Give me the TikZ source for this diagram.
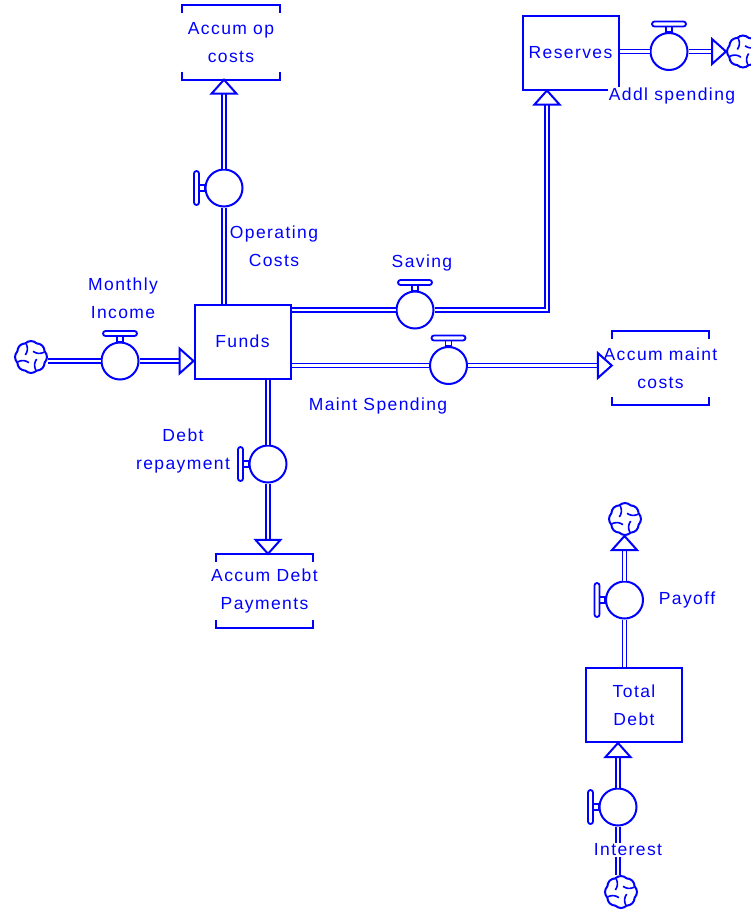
\documentclass[tikz,border=0pt]{standalone}
\usepackage{fontspec}
\setmainfont{Liberation Sans}[LetterSpace=8]
\usetikzlibrary{shapes.symbols}
\definecolor{sdblue}{RGB}{0,0,255}
\tikzset{
  stock/.style={draw=sdblue, line width=2pt, minimum width=96pt, minimum height=74pt, inner sep=0pt, align=center},
  acc/.style={minimum width=97pt, minimum height=74pt, inner sep=0pt, align=center},
  valve/.style={circle, draw=sdblue, line width=2pt, minimum size=37pt, inner sep=0pt, fill=white},
  pipe/.style={draw=sdblue, line width=1.7pt, double=white, double distance=2.2pt},
  srcsnk/.style={cloud, cloud puffs=8, cloud puff arc=90, aspect=1, draw=sdblue, line width=2pt, minimum size=32pt, inner sep=0pt, fill=white,
    path picture={\foreach \a in {20,110,200,290}
      \draw[sdblue, line width=1.6pt] ([shift={(\a:14pt)}]path picture bounding box.center) to[bend left=30] ([shift={(\a+50:6pt)}]path picture bounding box.center);}},
  lbl/.style={align=center, fill=white, inner sep=1pt},
  fhead/.pic={\draw[sdblue, line width=2pt, fill=white, line join=miter] (0,0) -- (-14,-12.5) -- (-14,12.5) -- cycle;},
  handle/.pic={\draw[sdblue, line width=1.8pt, fill=white] (-3,0) rectangle (3,-5.5);
    \draw[sdblue, line width=1.8pt, fill=white, rounded corners=2.5pt] (-17,-5.5) rectangle (17,-10.5);},
}
\begin{document}
\begin{tikzpicture}[x=1pt, y=-1pt, text=sdblue, font=\fontsize{17.5}{28}\selectfont]
  \useasboundingbox (0,0) rectangle (751,911);

  % stocks
  \node[stock] (funds) at (242.5,341.5) {Funds};
  \node[stock] (rsv) at (570.5,52.5) {Reserves};
  \node[stock] (tdb) at (634,705) {Total\\Debt};

  % accumulators
  \node[acc] (opc) at (231,42.5) {Accum op\\costs};
  \node[acc] (mtc) at (660.5,368) {\makebox[0pt]{Accum maint}\\costs};
  \node[acc] (dbp) at (264.5,591) {\makebox[0pt]{Accum Debt}\\Payments};
  \foreach \n in {opc,mtc,dbp}{
    \draw[sdblue, line width=2pt] ([yshift=-8pt]\n.north west) -- (\n.north west) -- (\n.north east) -- ([yshift=-8pt]\n.north east);
    \draw[sdblue, line width=2pt] ([yshift=8pt]\n.south west) -- (\n.south west) -- (\n.south east) -- ([yshift=8pt]\n.south east);
  }

  % sources and sinks
  \node[srcsnk] (src1) at (31,357) {};
  \node[srcsnk] (snk1) at (743,51.5) {};
  \node[srcsnk] (snk2) at (625,519) {};
  \node[srcsnk] (src2) at (621,892) {};

  % valves
  \node[valve] (vop) at (224,188) {};
  \node[valve] (vmi) at (120,361) {};
  \node[valve] (vsv) at (415,310) {};
  \node[valve] (vmt) at (448.5,365.5) {};
  \node[valve] (vdr) at (268,464) {};
  \node[valve] (vad) at (669,51.5) {};
  \node[valve] (vpo) at (624.5,600) {};
  \node[valve] (vin) at (618,807) {};
  \coordinate (svc) at (547,310);

  % flows
  \draw[pipe] (src1.east |- vmi) -- (vmi);
  \draw[pipe, shorten >=8pt] (vmi) -- (funds.west |- vmi);
  \pic at (funds.west |- vmi) {fhead};

  \draw[pipe] (funds.north -| vop) -- (vop);
  \draw[pipe, shorten >=8pt] (vop) -- (vop |- opc.south);
  \pic[rotate=90] at (vop |- opc.south) {fhead};

  \draw[pipe] (funds.east |- vsv) -- (vsv);
  \draw[pipe, shorten >=8pt] (vsv) -- (svc) -- (svc |- rsv.south);
  \pic[rotate=90] at (svc |- rsv.south) {fhead};

  \draw[pipe] (funds.east |- vmt) -- (vmt);
  \draw[pipe, shorten >=8pt] (vmt) -- (vmt -| mtc.west);
  \pic at (vmt -| mtc.west) {fhead};

  \draw[pipe] (funds.south -| vdr) -- (vdr);
  \draw[pipe, shorten >=8pt] (vdr) -- (vdr |- dbp.north);
  \pic[rotate=-90] at (vdr |- dbp.north) {fhead};

  \draw[pipe] (rsv.east |- vad) -- (vad);
  \draw[pipe, shorten >=8pt] (vad) -- (snk1.west);
  \pic at (snk1.west) {fhead};

  \draw[pipe] (tdb.north -| vpo) -- (vpo);
  \draw[pipe, shorten >=8pt] (vpo) -- (vpo |- snk2.south);
  \pic[rotate=90] at (vpo |- snk2.south) {fhead};

  \draw[pipe] (vin |- src2.north) -- (vin);
  \draw[pipe, shorten >=8pt] (vin) -- (vin |- tdb.south);
  \pic[rotate=90] at (vin |- tdb.south) {fhead};

  % valve handles
  \foreach \v in {vmi,vsv,vmt,vad} \pic at (\v.north) {handle};
  \foreach \v in {vop,vdr,vpo,vin} \pic[rotate=90] at (\v.west) {handle};

  % flow labels
  \node[lbl] (lop) at (274,246) {Operating\\Costs};
  \node[lbl] (lmi) at (123,298) {Monthly\\Income};
  \node[lbl] (lsv) at (422,263) {Saving};
  \node[lbl] (lmt) at (378,406) {Maint Spending};
  \node[lbl] (ldr) at (183,451) {Debt\\repayment};
  \node[lbl] (lad) at (672,96) {Addl spending};
  \node[lbl] (lpo) at (687,600) {Payoff};
  \node[lbl] (lin) at (628,850) {Interest};
\end{tikzpicture}
\end{document}
